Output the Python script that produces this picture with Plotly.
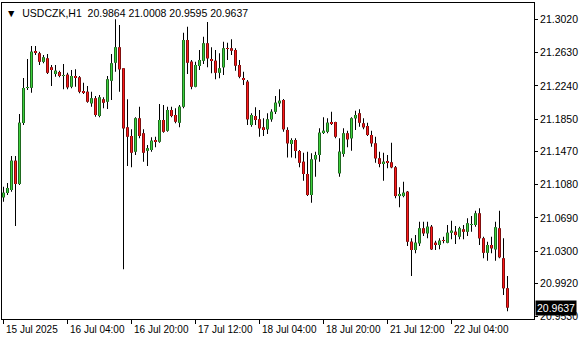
import plotly.graph_objects as go

symbol_header = "USDCZK,H1  20.9864 21.0008 20.9595 20.9637"
last_price = 20.9637

opens = [21.0932, 21.0983, 21.1018, 21.1362, 21.1088, 21.1805, 21.2216, 21.2219, 21.2642, 21.2623,
         21.2524, 21.2564, 21.2459, 21.2380, 21.2404, 21.2357, 21.2372, 21.2231, 21.2357, 21.2341,
         21.2180, 21.2172, 21.2036, 21.2095, 21.1887, 21.2083, 21.2055, 21.2301, 21.2513, 21.2694,
         21.2447, 21.1754, 21.1652, 21.1468, 21.1860, 21.1684, 21.1479, 21.1488, 21.1597, 21.1585,
         21.1840, 21.1714, 21.1957, 21.1899, 21.1808, 21.1996, 21.2779, 21.2525, 21.2231, 21.2474,
         21.2536, 21.2741, 21.2553, 21.2536, 21.2395, 21.2459, 21.2682, 21.2682, 21.2662, 21.2486,
         21.2330, 21.2290, 21.1781, 21.1887, 21.1848, 21.1754, 21.1731, 21.1848, 21.1937, 21.2036,
         21.2075, 21.1723, 21.1558, 21.1605, 21.1476, 21.1350, 21.1206, 21.0959, 21.1378, 21.1429,
         21.1691, 21.1702, 21.1816, 21.1816, 21.1214, 21.1441, 21.1684, 21.1625, 21.1860, 21.1919,
         21.1801, 21.1769, 21.1664, 21.1566, 21.1390, 21.1323, 21.1350, 21.1343, 21.1284, 21.0947,
         21.0947, 21.0998, 21.0411, 21.0313, 21.0392, 21.0568, 21.0509, 21.0587, 21.0399, 21.0372,
         21.0423, 21.0399, 21.0516, 21.0528, 21.0470, 21.0556, 21.0528, 21.0607, 21.0607, 21.0744,
         21.0451, 21.0281, 21.0372, 21.0321, 21.0568, 21.0216, 20.9864]
highs = [21.1057, 21.1100, 21.1417, 21.1417, 21.1910, 21.2333, 21.2556, 21.2709, 21.2709, 21.2642,
         21.2603, 21.2615, 21.2486, 21.2486, 21.2419, 21.2497, 21.2395, 21.2427, 21.2435, 21.2357,
         21.2278, 21.2239, 21.2172, 21.2122, 21.2133, 21.2106, 21.2357, 21.2615, 21.3022, 21.2955,
         21.2447, 21.2083, 21.1731, 21.1872, 21.1996, 21.1731, 21.1546, 21.1637, 21.1644, 21.2028,
         21.2016, 21.1996, 21.1996, 21.1977, 21.2016, 21.2865, 21.2935, 21.2544, 21.2525, 21.2662,
         21.2818, 21.2991, 21.2694, 21.2662, 21.2623, 21.2759, 21.2748, 21.2788, 21.2682, 21.2544,
         21.2407, 21.2310, 21.1919, 21.1989, 21.1957, 21.1860, 21.1919, 21.1965, 21.2122, 21.2200,
         21.2086, 21.1754, 21.1625, 21.1625, 21.1488, 21.1456, 21.1468, 21.1449, 21.1468, 21.1742,
         21.1872, 21.1860, 21.1937, 21.1820, 21.1625, 21.1742, 21.1714, 21.1872, 21.1949, 21.1965,
         21.1860, 21.1808, 21.1714, 21.1644, 21.1468, 21.1456, 21.1429, 21.1573, 21.1300, 21.1050,
         21.1115, 21.1006, 21.0451, 21.0489, 21.0646, 21.0646, 21.0646, 21.0607, 21.0423, 21.0451,
         21.0469, 21.0607, 21.0657, 21.0595, 21.0587, 21.0607, 21.0686, 21.0713, 21.0775, 21.0803,
         21.0469, 21.0411, 21.0469, 21.0646, 21.0775, 21.0451, 21.0008]
lows = [21.0880, 21.0959, 21.0998, 21.0595, 21.1077, 21.1781, 21.2192, 21.2160, 21.2603, 21.2486,
        21.2506, 21.2380, 21.2239, 21.2348, 21.2341, 21.2200, 21.2200, 21.2212, 21.2231, 21.2153,
        21.2145, 21.2043, 21.1996, 21.1879, 21.1872, 21.1977, 21.1969, 21.2075, 21.2407, 21.2172,
        21.0087, 21.1300, 21.1284, 21.1429, 21.1625, 21.1350, 21.1300, 21.1468, 21.1519, 21.1573,
        21.1691, 21.1702, 21.1872, 21.1801, 21.1754, 21.1977, 21.2380, 21.2200, 21.2224, 21.2427,
        21.2497, 21.2459, 21.2388, 21.2318, 21.2330, 21.2368, 21.2544, 21.2603, 21.2419, 21.2330,
        21.2251, 21.1781, 21.1761, 21.1781, 21.1644, 21.1652, 21.1675, 21.1820, 21.1910, 21.1996,
        21.1702, 21.1401, 21.1401, 21.1390, 21.1284, 21.1127, 21.0947, 21.0869, 21.1174, 21.1350,
        21.1675, 21.1684, 21.1781, 21.1625, 21.1174, 21.1409, 21.1519, 21.1479, 21.1722, 21.1761,
        21.1731, 21.1652, 21.1526, 21.1338, 21.1284, 21.1127, 21.1273, 21.1273, 21.0920, 21.0815,
        21.0932, 21.0360, 21.0008, 21.0274, 21.0360, 21.0478, 21.0451, 21.0313, 21.0313, 21.0321,
        21.0392, 21.0392, 21.0439, 21.0384, 21.0439, 21.0439, 21.0478, 21.0528, 21.0587, 21.0372,
        21.0216, 21.0188, 21.0274, 21.0188, 21.0216, 20.9785, 20.9595]
closes = [21.0986, 21.1041, 21.1362, 21.1088, 21.1808, 21.2216, 21.2219, 21.2642, 21.2630, 21.2524,
          21.2576, 21.2395, 21.2427, 21.2419, 21.2357, 21.2360, 21.2224, 21.2357, 21.2341, 21.2172,
          21.2165, 21.2055, 21.2095, 21.1899, 21.2106, 21.2043, 21.2318, 21.2506, 21.2694, 21.2435,
          21.1742, 21.1644, 21.1456, 21.1860, 21.1652, 21.1456, 21.1508, 21.1597, 21.1585, 21.1840,
          21.1702, 21.1957, 21.1887, 21.1820, 21.1996, 21.2779, 21.2513, 21.2231, 21.2486, 21.2544,
          21.2741, 21.2564, 21.2536, 21.2395, 21.2447, 21.2682, 21.2680, 21.2654, 21.2478, 21.2348,
          21.2318, 21.1848, 21.1899, 21.1840, 21.1742, 21.1731, 21.1848, 21.1937, 21.2043, 21.2066,
          21.1731, 21.1566, 21.1605, 21.1476, 21.1338, 21.1206, 21.0959, 21.1378, 21.1429, 21.1691,
          21.1714, 21.1808, 21.1793, 21.1644, 21.1468, 21.1684, 21.1613, 21.1860, 21.1899, 21.1808,
          21.1754, 21.1664, 21.1566, 21.1390, 21.1323, 21.1350, 21.1343, 21.1284, 21.0947, 21.0971,
          21.0986, 21.0411, 21.0313, 21.0399, 21.0568, 21.0509, 21.0587, 21.0321, 21.0372, 21.0423,
          21.0420, 21.0516, 21.0540, 21.0489, 21.0568, 21.0528, 21.0627, 21.0607, 21.0744, 21.0451,
          21.0281, 21.0372, 21.0333, 21.0580, 21.0228, 20.9864, 20.9637]

bar_index = list(range(len(opens)))

y_tick_values = [21.3020, 21.2630, 21.2240, 21.1850, 21.1470, 21.1080, 21.0690, 21.0300, 20.9920, 20.9530]
x_tick_positions = [0, 16, 32, 48, 64, 80, 96, 112]
x_tick_labels = ["15 Jul 2025", "16 Jul 04:00", "16 Jul 20:00", "17 Jul 12:00",
                 "18 Jul 04:00", "18 Jul 20:00", "21 Jul 12:00", "22 Jul 04:00"]

FONT = "Liberation Sans"
BULL = "#3dd23d"
BEAR = "#ff1a1a"

# derived from the OHLC lists
wick_len = [h - l for h, l in zip(highs, lows)]
body_base = [min(o, c) for o, c in zip(opens, closes)]
body_len = [max(abs(c - o), 0.0004) for o, c in zip(opens, closes)]
body_color = [BULL if c >= o else BEAR for o, c in zip(opens, closes)]

fig = go.Figure()
# wicks
fig.add_trace(go.Bar(x=bar_index, y=wick_len, base=lows, width=0.25,
                     marker=dict(color="black", line=dict(width=0)),
                     hoverinfo="skip", showlegend=False))
# body outline (black)
fig.add_trace(go.Bar(x=bar_index, y=body_len, base=body_base, width=0.75,
                     marker=dict(color="black", line=dict(width=0)),
                     hoverinfo="skip", showlegend=False))
# body fill
fig.add_trace(go.Bar(x=bar_index, y=body_len, base=body_base, width=0.5,
                     marker=dict(color=body_color, line=dict(width=0)),
                     hoverinfo="skip", showlegend=False))

annotations = []
for pos, lab in zip(x_tick_positions, x_tick_labels):
    annotations.append(dict(x=pos, xref="x", y=0, yref="paper", yshift=-3,
                            text=lab, showarrow=False, xanchor="left", yanchor="top",
                            font=dict(family=FONT, size=10, color="black")))
annotations.append(dict(x=0, xref="paper", y=1, yref="paper", xshift=2, yshift=-2,
                        text="\u25bc  " + symbol_header.replace(" ", "\u00a0"), showarrow=False,
                        xanchor="left", yanchor="top",
                        font=dict(family=FONT, size=10.5, color="black")))
annotations.append(dict(x=1, xref="paper", y=last_price, yref="y", xshift=1,
                        text="%.4f" % last_price, showarrow=False, xanchor="left", yanchor="middle",
                        bgcolor="black", borderpad=1,
                        font=dict(family=FONT, size=10.5, color="white")))

fig.update_layout(
    width=580, height=340,
    margin=dict(l=2, r=46, t=3, b=21),
    paper_bgcolor="white", plot_bgcolor="white",
    annotations=annotations,
    barmode="overlay",
    xaxis=dict(range=[-0.375, 132.625],
               showgrid=False, zeroline=False, showline=True, mirror=True,
               linecolor="black", linewidth=1,
               tickmode="array", tickvals=x_tick_positions, ticktext=[""] * len(x_tick_positions),
               ticks="outside", ticklen=4, tickcolor="black", tickwidth=1),
    yaxis=dict(range=[20.9503, 21.3214], side="right",
               showgrid=False, zeroline=False, showline=True, mirror=True,
               linecolor="black", linewidth=1,
               tickmode="array", tickvals=y_tick_values,
               ticktext=["%.4f" % v for v in y_tick_values],
               ticks="outside", ticklen=3, tickcolor="black", tickwidth=1,
               tickfont=dict(family=FONT, size=10.5, color="black")),
)

fig.write_html("out.html")
